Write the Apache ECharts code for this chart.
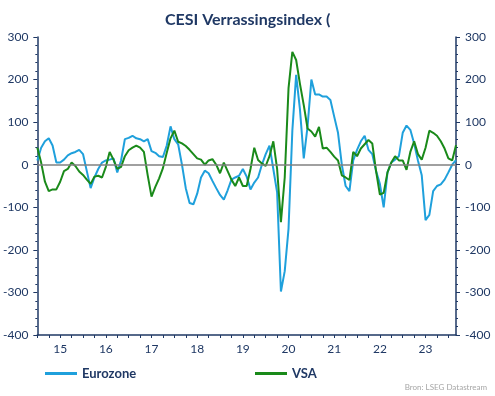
<!DOCTYPE html>
<html>
<head>
<meta charset="utf-8">
<script src="https://cdn.jsdelivr.net/npm/echarts@6/dist/echarts.min.js"></script>
<style>
  html, body { margin: 0; padding: 0; background: #fff; }
  #chart { width: 495px; height: 396px; }
</style>
</head>
<body>
<div id="chart"></div>
<script>
// maanden jan 2015 t/m mrt 2024
const months = [];
for (let y = 2015; y <= 2024; y++) {
  for (let m = 1; m <= 12; m++) {
    if (y === 2024 && m > 3) break;
    months.push(y + '-' + String(m).padStart(2, '0'));
  }
}

const yTicks = { min: -400, max: 300, step: 100 };

const eurozone = [
  10, 40, 55, 62, 45, 5, 5, 12, 22, 27, 30, 35,
  25, -15, -55, -30, -10, 5, 10, 12, 15, -18, 10, 60,
  63, 68, 62, 60, 55, 60, 32, 28, 20, 18, 45, 90,
  60, 48, 0, -55, -90, -93, -68, -30, -14, -20, -38, -55,
  -71, -82, -60, -35, -30, -26, -10, -28, -58, -42, -30, 0,
  25, 45, -10, -65, -298, -250, -150, 80, 211, 130, 15, 90,
  200, 165, 165, 160, 160, 152, 113, 75, 0, -50, -62, 10,
  35, 55, 68, 35, 25, -15, -45, -100, -18, 5, 12, 20,
  75, 92, 82, 50, 10, -25, -130, -118, -62, -50, -46, -35,
  -18, 0, 11
];

// CESI VS
const vsa = [
  40, 5, -40, -62, -58, -58, -40, -15, -10, 5, -3, -16,
  -24, -35, -45, -28, -26, -30, -5, 30, 12, -10, -5, 20,
  34, 40, 45, 40, 30, -25, -75, -52, -32, -8, 28, 62,
  80, 54, 50, 44, 35, 25, 15, 12, 0, 10, 13, 0,
  -20, 5, -15, -35, -50, -30, -50, -50, -10, 40, 11, 3,
  -3, 20, 55, -10, -135, -30, 180, 265, 246, 190, 140, 85,
  78, 66, 89, 38, 40, 30, 19, 10, -25, -30, -36, 30,
  20, 38, 48, 58, 50, -15, -70, -66, -18, 5, 20, 10,
  10, -12, 30, 55, 25, 12, 40, 80, 75, 68, 55, 38,
  15, 10, 46
];

const navy = '#1f3864';
const font = 'Lato';

const yAxisBase = (pos) => ({
  type: 'value',
  position: pos,
  min: yTicks.min,
  max: yTicks.max,
  interval: yTicks.step,
  axisLine: { show: true, lineStyle: { color: navy, width: 1.5 } },
  axisTick: { show: true, length: 4, lineStyle: { color: navy } },
  minorTick: { show: true, splitNumber: 5, length: 2, lineStyle: { color: navy } },
  splitLine: { show: false },
  axisLabel: { color: navy, fontSize: 12, fontFamily: font, margin: 9 }
});

const chart = echarts.init(document.getElementById('chart'));
chart.setOption({
  animation: false,
  title: {
    text: 'CESI Verrassingsindex (',
    left: 160,
    top: 7,
    textStyle: { fontSize: 16, fontWeight: 'bold', color: navy, fontFamily: font }
  },
  grid: { left: 36, right: 39, top: 37, bottom: 61 },
  legend: [
    {
      data: ['Eurozone'], left: 40, top: 362, icon: 'rect',
      itemWidth: 32, itemHeight: 3, itemGap: 5,
      textStyle: { fontSize: 13, fontWeight: 'bold', color: navy, fontFamily: font }
    },
    {
      data: ['VSA'], left: 250, top: 362, icon: 'rect',
      itemWidth: 32, itemHeight: 3, itemGap: 5,
      textStyle: { fontSize: 13, fontWeight: 'bold', color: navy, fontFamily: font }
    }
  ],
  graphic: [{
    type: 'text', right: 8, top: 383,
    style: { text: 'Bron: LSEG Datastream', fontSize: 8, fill: '#a6a6a6', fontFamily: font }
  }],
  xAxis: {
    type: 'category',
    data: months,
    boundaryGap: false,
    axisLine: { onZero: false, lineStyle: { color: navy, width: 1.5 } },
    axisTick: { interval: (i) => i % 3 === 0, length: 3, lineStyle: { color: navy } },
    axisLabel: {
      interval: (i) => i % 12 === 6,
      formatter: (v) => v.substring(2, 4),
      color: navy, fontSize: 12, fontFamily: font, margin: 8
    },
    splitLine: { show: false }
  },
  yAxis: [yAxisBase('left'), yAxisBase('right')],
  series: [
    {
      name: 'Eurozone',
      type: 'line',
      data: eurozone,
      showSymbol: false,
      lineStyle: { color: '#1fa0dc', width: 2 },
      itemStyle: { color: '#1fa0dc' },
      markLine: {
        silent: true,
        symbol: 'none',
        label: { show: false },
        lineStyle: { color: '#808080', width: 1.5, type: 'solid' },
        data: [{ yAxis: 0 }]
      },
      z: 2
    },
    {
      name: 'VSA',
      type: 'line',
      data: vsa,
      showSymbol: false,
      lineStyle: { color: '#1a8a1a', width: 2 },
      itemStyle: { color: '#1a8a1a' },
      z: 3
    }
  ]
});
</script>
</body>
</html>
